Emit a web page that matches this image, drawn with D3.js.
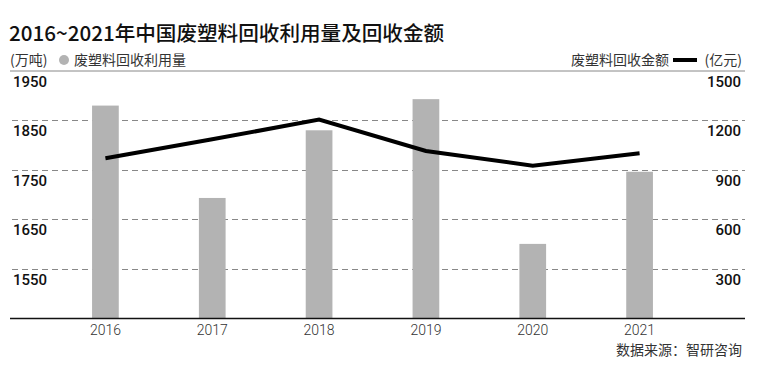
<!DOCTYPE html>
<html><head><meta charset="utf-8">
<script src="https://cdn.jsdelivr.net/npm/d3@7"></script>
<style>body{margin:0;background:#fff}svg{display:block}</style>
</head><body>
<svg id="c" width="759" height="367"></svg>
<script>
const years = ["2016","2017","2018","2019","2020","2021"];
const volume = [1880, 1693, 1830, 1893, 1600, 1746];   // 万吨
const amount = [970, 1085, 1205, 1014, 925, 1000];     // 亿元
const leftTicks = [1550, 1650, 1750, 1850, 1950];
const rightTicks = [300, 600, 900, 1200, 1500];
const title = "2016~2021年中国废塑料回收利用量及回收金额";
const source = "数据来源：智研咨询";

const svg = d3.select("#c");
const plotTop = 71, plotBottom = 318, plotLeft = 10, plotRight = 745;
const font = "'Noto Sans CJK SC', 'Liberation Sans', sans-serif";
const numFont = "Roboto, 'Liberation Sans', sans-serif";

const x = d3.scaleBand().domain(years).range([52, 693]).paddingInner(0.75).paddingOuter(0.375);
const yL = d3.scaleLinear().domain([1450, 1950]).range([plotBottom, plotTop]);
const yR = d3.scaleLinear().domain([0, 1500]).range([plotBottom, plotTop]);

// title
svg.append("text").attr("x", 9).attr("y", 41).attr("font-family", font)
  .attr("font-size", 20.6).attr("font-weight", 500).attr("fill", "#111").text(title);

// legend left
const lg = svg.append("g").attr("font-family", font).attr("font-size", 14).attr("fill", "#333");
lg.append("text").attr("x", 10).attr("y", 65).text("(万吨)");
lg.append("circle").attr("cx", 64).attr("cy", 60).attr("r", 5).attr("fill", "#b3b3b3");
lg.append("text").attr("x", 74).attr("y", 65).text("废塑料回收利用量");
// legend right
lg.append("text").attr("x", 742).attr("y", 65).attr("text-anchor", "end").text("(亿元)");
lg.append("line").attr("x1", 673).attr("x2", 697).attr("y1", 60).attr("y2", 60)
  .attr("stroke", "#000").attr("stroke-width", 4);
lg.append("text").attr("x", 669).attr("y", 65).attr("text-anchor", "end").text("废塑料回收金额");

// top line
svg.append("line").attr("x1", plotLeft).attr("x2", plotRight).attr("y1", plotTop).attr("y2", plotTop)
  .attr("stroke", "#888").attr("stroke-width", 1);

// gridlines
svg.append("g").selectAll("line").data(leftTicks.slice(0, 4)).join("line")
  .attr("x1", 12).attr("x2", plotRight)
  .attr("y1", d => Math.round(yL(d)) + 0.5).attr("y2", d => Math.round(yL(d)) + 0.5)
  .attr("stroke", "#888").attr("stroke-dasharray", "6,4").attr("stroke-width", 1);

// bars
svg.append("g").selectAll("rect").data(years).join("rect")
  .attr("x", d => x(d)).attr("width", x.bandwidth())
  .attr("y", (d, i) => yL(volume[i])).attr("height", (d, i) => plotBottom - yL(volume[i]))
  .attr("fill", "#b3b3b3");

// axis tick labels
svg.append("g").selectAll("text").data(leftTicks).join("text")
  .attr("x", 13).attr("y", d => yL(d) + 16)
  .attr("font-family", numFont).attr("font-size", 15).attr("font-weight", 500).attr("fill", "#111")
  .text(d => d);
svg.append("g").selectAll("text").data(rightTicks).join("text")
  .attr("x", 741).attr("y", d => yR(d) + 16).attr("text-anchor", "end")
  .attr("font-family", numFont).attr("font-size", 15).attr("font-weight", 500).attr("fill", "#111")
  .text(d => d);

// line
const line = d3.line().x((d, i) => x(years[i]) + x.bandwidth() / 2).y(d => yR(d));
svg.append("path").datum(amount).attr("d", line).attr("fill", "none")
  .attr("stroke", "#000").attr("stroke-width", 4).attr("stroke-linejoin", "miter");

// bottom axis
svg.append("line").attr("x1", plotLeft).attr("x2", plotRight).attr("y1", plotBottom + 0.5).attr("y2", plotBottom + 0.5)
  .attr("stroke", "#111").attr("stroke-width", 1.5);
svg.append("g").selectAll("text").data(years).join("text")
  .attr("x", d => x(d) + x.bandwidth() / 2).attr("y", 335).attr("text-anchor", "middle")
  .attr("font-family", numFont).attr("font-size", 14).attr("font-weight", 300).attr("fill", "#333")
  .text(d => d);

svg.append("text").attr("x", 742).attr("y", 355).attr("text-anchor", "end")
  .attr("font-family", font).attr("font-size", 14).attr("fill", "#333").text(source);
</script>
</body></html>
